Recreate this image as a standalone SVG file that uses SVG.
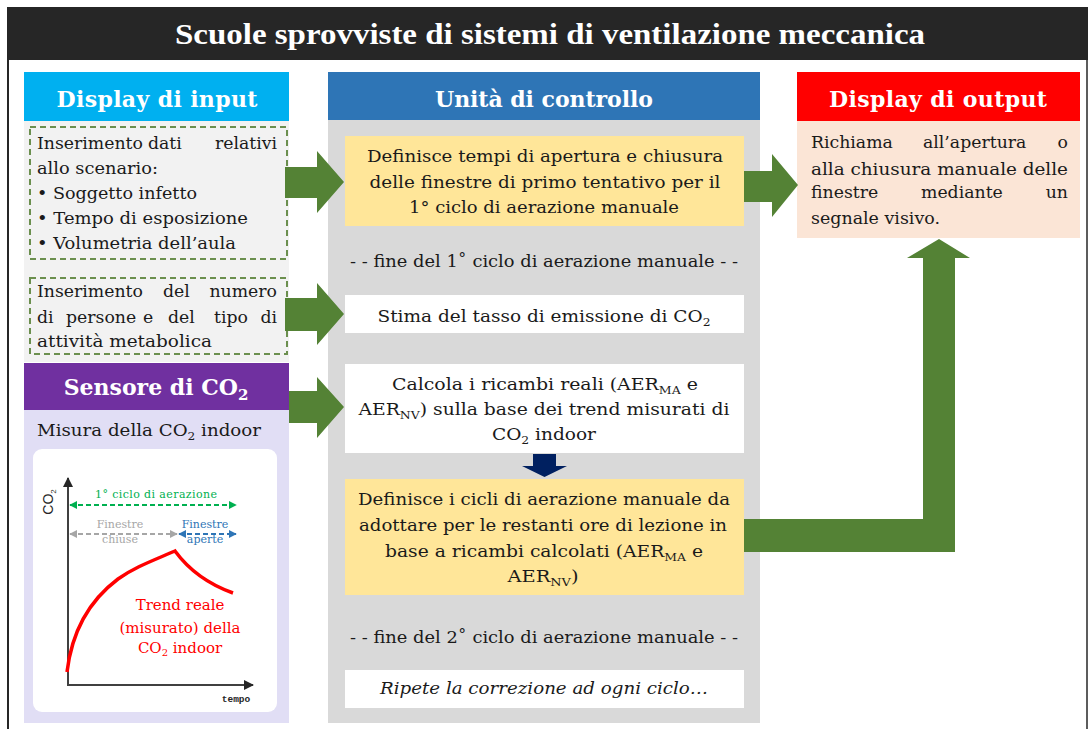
<svg xmlns="http://www.w3.org/2000/svg" width="1088" height="729" viewBox="0 0 1088 729">
<style>
.t{font-family:"DejaVu Serif","Liberation Serif",serif;font-size:17.3px;fill:#1a1a1a}
.h{font-family:"DejaVu Serif","Liberation Serif",serif;font-size:22px;font-weight:bold;fill:#fff;text-anchor:middle}
.c{text-anchor:middle}
.e{text-anchor:end}
.sub{font-size:11.5px}
.dash{fill:none;stroke:#6b8f4e;stroke-width:2;stroke-dasharray:6 4}
.ga{fill:#548235}
.ch{font-family:"DejaVu Serif","Liberation Serif",serif;font-size:11px;text-anchor:middle}
.rt{font-family:"DejaVu Serif","Liberation Serif",serif;font-size:15px;fill:#ff0000;text-anchor:middle}
</style>
<defs>
<marker id="mg" viewBox="0 0 10 10" refX="9" refY="5" markerWidth="4" markerHeight="4" orient="auto-start-reverse" markerUnits="strokeWidth"><path d="M0,0 L10,5 L0,10 z" fill="#00b050"/></marker>
<marker id="mgr" viewBox="0 0 10 10" refX="9" refY="5" markerWidth="4" markerHeight="4" orient="auto-start-reverse" markerUnits="strokeWidth"><path d="M0,0 L10,5 L0,10 z" fill="#a6a6a6"/></marker>
<marker id="mb" viewBox="0 0 10 10" refX="9" refY="5" markerWidth="4" markerHeight="4" orient="auto-start-reverse" markerUnits="strokeWidth"><path d="M0,0 L10,5 L0,10 z" fill="#2e75b6"/></marker>
<marker id="mk" viewBox="0 0 10 10" refX="9" refY="5" markerWidth="5" markerHeight="5" orient="auto" markerUnits="strokeWidth"><path d="M0,0 L10,5 L0,10 z" fill="#262626"/></marker>
</defs>
<rect width="1088" height="729" fill="#fff"/>
<g id="frame">
<line x1="8" y1="60" x2="8" y2="729" stroke="#262626" stroke-width="2"/>
<line x1="1087" y1="60" x2="1087" y2="729" stroke="#262626" stroke-width="1.5"/>
</g>
<g id="title">
<rect x="7" y="7" width="1081" height="53" fill="#262626"/>
<text x="550" y="44" text-anchor="middle" font-family="'Liberation Serif',serif" font-weight="bold" font-size="30" fill="#fff" textLength="750" lengthAdjust="spacingAndGlyphs">Scuole sprovviste di sistemi di ventilazione meccanica</text>
</g>
<g id="display-input">
<rect x="24" y="72" width="265" height="49" fill="#00b0f0"/>
<text class="h" x="157" y="107" textLength="201">Display di input</text>
<rect x="24" y="121" width="265" height="241" fill="#f2f2f2"/>
<rect class="dash" x="30" y="127" width="257" height="132"/>
<text class="t" y="149"><tspan x="37">Inserimento</tspan><tspan x="148">dati</tspan><tspan x="277" text-anchor="end">relativi</tspan></text>
<text class="t" x="37" y="174" textLength="121" lengthAdjust="spacingAndGlyphs">allo scenario:</text>
<text class="t" x="37" y="199" textLength="160" lengthAdjust="spacingAndGlyphs">• Soggetto infetto</text>
<text class="t" x="37" y="224" textLength="211" lengthAdjust="spacingAndGlyphs">• Tempo di esposizione</text>
<text class="t" x="37" y="249" textLength="199" lengthAdjust="spacingAndGlyphs">• Volumetria dell’aula</text>
<rect class="dash" x="30" y="278" width="257" height="76"/>
<text class="t" y="297"><tspan x="37">Inserimento</tspan><tspan x="163">del</tspan><tspan x="277" text-anchor="end">numero</tspan></text>
<text class="t" y="323"><tspan x="37">di</tspan><tspan x="66">persone</tspan><tspan x="143">e</tspan><tspan x="168">del</tspan><tspan x="214">tipo</tspan><tspan x="277" text-anchor="end">di</tspan></text>
<text class="t" x="37" y="347" textLength="175" lengthAdjust="spacingAndGlyphs">attività metabolica</text>
</g>
<g id="sensore">
<rect x="24" y="363" width="265" height="47" fill="#7030a0"/>
<text class="h" x="156" y="395">Sensore di CO<tspan font-size="15" dy="5">2</tspan></text>
<rect x="24" y="410" width="265" height="313" fill="#e1def5"/>
<text class="t" x="37" y="436" textLength="224" lengthAdjust="spacingAndGlyphs">Misura della CO<tspan class="sub" dy="4">2</tspan><tspan dy="-4"> indoor</tspan></text>
<rect x="33" y="449" width="244" height="263" rx="9" fill="#fff"/>
<line x1="68" y1="686" x2="68" y2="478" stroke="#404040" stroke-width="2" marker-end="url(#mk)"/>
<line x1="67" y1="685" x2="253" y2="685" stroke="#404040" stroke-width="2" marker-end="url(#mk)"/>
<text x="53" y="502" transform="rotate(-90 53 502)" text-anchor="middle" font-family="'Liberation Sans',sans-serif" font-size="14" fill="#262626">CO<tspan font-size="8" dy="3">2</tspan></text>
<line x1="70" y1="505" x2="236" y2="505" stroke="#00b050" stroke-width="2" stroke-dasharray="5 3" marker-start="url(#mg)" marker-end="url(#mg)"/>
<text class="ch" x="156" y="498" fill="#00b050" textLength="122">1° ciclo di aerazione</text>
<line x1="70" y1="534" x2="177" y2="534" stroke="#a6a6a6" stroke-width="2" stroke-dasharray="5 3" marker-start="url(#mgr)" marker-end="url(#mgr)"/>
<line x1="179" y1="534" x2="236" y2="534" stroke="#2e75b6" stroke-width="2" stroke-dasharray="5 3" marker-start="url(#mb)" marker-end="url(#mb)"/>
<text class="ch" x="120" y="528" fill="#a6a6a6">Finestre</text>
<text class="ch" x="120" y="543" fill="#a6a6a6">chiuse</text>
<text class="ch" x="205" y="528" fill="#2e75b6">Finestre</text>
<text class="ch" x="205" y="543" fill="#2e75b6">aperte</text>
<path d="M67,672 C72,630 90,600 118,579 C135,567 152,561 175,551 C186,566 205,583 233,593" fill="none" stroke="#ff0000" stroke-width="3.5"/>
<text class="rt" x="180" y="610">Trend reale</text>
<text class="rt" x="180" y="633">(misurato) della</text>
<text class="rt" x="180" y="653">CO<tspan font-size="10" dy="3">2</tspan><tspan dy="-3"> indoor</tspan></text>
<text x="236" y="702" text-anchor="middle" font-family="'Liberation Mono',monospace" font-weight="bold" font-size="9.5" fill="#262626">tempo</text>
</g>
<g id="unita-controllo">
<rect x="328" y="72" width="432" height="48" fill="#2e75b6"/>
<text class="h" x="544" y="107" textLength="218">Unità di controllo</text>
<rect x="328" y="120" width="432" height="603" fill="#d9d9d9"/>
</g>
<g id="definisce-1">
<rect x="345" y="136" width="399" height="90" fill="#ffe699"/>
<text class="t c" x="545" y="162" textLength="356" lengthAdjust="spacingAndGlyphs">Definisce tempi di apertura e chiusura</text>
<text class="t c" x="545" y="188" textLength="351" lengthAdjust="spacingAndGlyphs">delle finestre di primo tentativo per il</text>
<text class="t c" x="544" y="213" textLength="270" lengthAdjust="spacingAndGlyphs">1° ciclo di aerazione manuale</text>
</g>
<text id="fine-1" class="t c" x="544" y="267" textLength="388" lengthAdjust="spacingAndGlyphs">- - fine del 1˚ ciclo di aerazione manuale - -</text>
<g id="stima">
<rect x="345" y="295" width="399" height="38" fill="#fff"/>
<text class="t c" x="544" y="322" textLength="333" lengthAdjust="spacingAndGlyphs">Stima del tasso di emissione di CO<tspan class="sub" dy="4">2</tspan></text>
</g>
<g id="calcola">
<rect x="345" y="364" width="399" height="89" fill="#fff"/>
<text class="t c" x="545" y="390" textLength="306" lengthAdjust="spacingAndGlyphs">Calcola i ricambi reali (AER<tspan class="sub" dy="4">MA</tspan><tspan dy="-4"> e</tspan></text>
<text class="t c" x="544" y="415" textLength="371" lengthAdjust="spacingAndGlyphs">AER<tspan class="sub" dy="4">NV</tspan><tspan dy="-4">) sulla base dei trend misurati di</tspan></text>
<text class="t c" x="544" y="440" textLength="104" lengthAdjust="spacingAndGlyphs">CO<tspan class="sub" dy="4">2</tspan><tspan dy="-4"> indoor</tspan></text>
</g>
<g id="definisce-2">
<rect x="345" y="479" width="399" height="116" fill="#ffe699"/>
<text class="t c" x="544" y="505" textLength="372" lengthAdjust="spacingAndGlyphs">Definisce i cicli di aerazione manuale da</text>
<text class="t c" x="543" y="531" textLength="368" lengthAdjust="spacingAndGlyphs">adottare per le restanti ore di lezione in</text>
<text class="t c" x="544" y="557" textLength="318" lengthAdjust="spacingAndGlyphs">base a ricambi calcolati (AER<tspan class="sub" dy="4">MA</tspan><tspan dy="-4"> e</tspan></text>
<text class="t c" x="543" y="582" textLength="71" lengthAdjust="spacingAndGlyphs">AER<tspan class="sub" dy="4">NV</tspan><tspan dy="-4">)</tspan></text>
</g>
<text id="fine-2" class="t c" x="544" y="643" textLength="388" lengthAdjust="spacingAndGlyphs">- - fine del 2˚ ciclo di aerazione manuale - -</text>
<g id="ripete">
<rect x="345" y="670" width="399" height="38" fill="#fff"/>
<text class="t c" x="544" y="694" font-style="italic" textLength="328" lengthAdjust="spacingAndGlyphs">Ripete la correzione ad ogni ciclo…</text>
</g>
<g id="display-output">
<rect x="797" y="72" width="283" height="49" fill="#ff0000"/>
<text class="h" x="938" y="107" textLength="218">Display di output</text>
<rect x="797" y="121" width="283" height="117" fill="#fbe5d6"/>
<text class="t" y="148"><tspan x="811">Richiama</tspan><tspan x="923">all’apertura</tspan><tspan x="1068" text-anchor="end">o</tspan></text>
<text class="t" x="811" y="175" textLength="257" lengthAdjust="spacingAndGlyphs">alla chiusura manuale delle</text>
<text class="t" y="198"><tspan x="811">finestre</tspan><tspan x="921">mediante</tspan><tspan x="1068" text-anchor="end">un</tspan></text>
<text class="t" x="811" y="224" textLength="129" lengthAdjust="spacingAndGlyphs">segnale visivo.</text>
</g>
<g id="connectors">
<polygon class="ga" points="285,167 317,167 317,151 344,182 317,213 317,198 285,198"/>
<polygon class="ga" points="285,298 317,298 317,283 344,314 317,345 317,331 285,331"/>
<polygon class="ga" points="289,391 317,391 317,377 344,407 317,438 317,423 289,423"/>
<polygon class="ga" points="744,171 772,171 772,154 798,185 772,217 772,202 744,202"/>
<polygon class="ga" points="744,519 923,519 923,258 907,258 939,239 970,258 955,258 955,552 744,552"/>
<polygon fill="#002060" points="533,454 556,454 556,466 567,466 544.5,477 522,466 533,466"/>
</g>
</svg>
